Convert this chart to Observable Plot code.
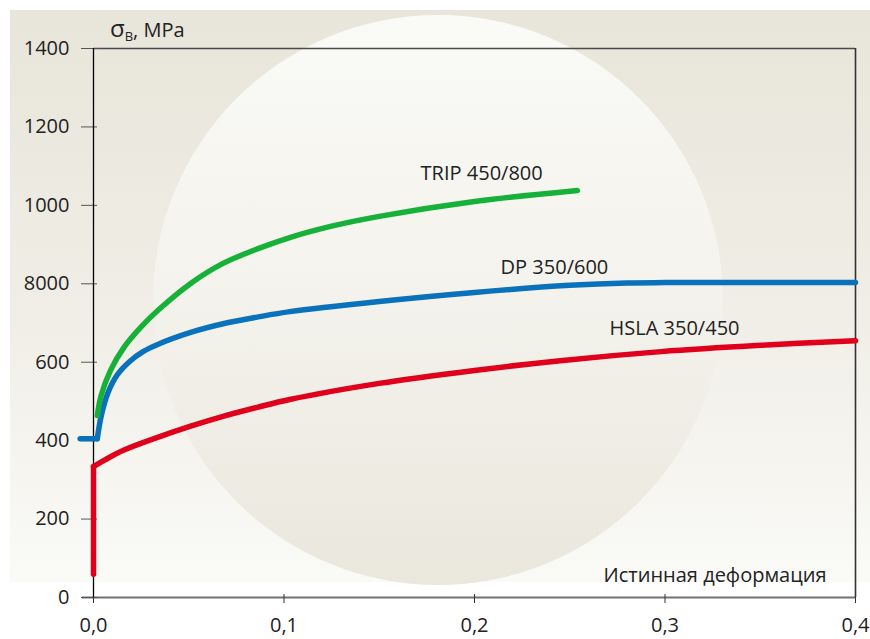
<!DOCTYPE html>
<html>
<head>
<meta charset="utf-8">
<script src="https://cdn.jsdelivr.net/npm/d3@7"></script>
<script src="https://cdn.jsdelivr.net/npm/@observablehq/plot@0.6"></script>
<style>
  body { margin: 0; background: #ffffff; }
  #wrap { position: relative; width: 870px; height: 639px; overflow: hidden; }
  #bg { position: absolute; left: 10px; top: 10px; width: 860px; height: 572px;
        background: linear-gradient(#e8e5da, #efede5 50%, #fafaf7); }
  #disc { position: absolute; left: 153px; top: 15px; width: 570px; height: 570px; border-radius: 50%;
          background: linear-gradient(#fafaf7, #f4f3ed 45%, #eae7dd); }
  #plot { position: absolute; left: 0; top: 0; }
</style>
</head>
<body>
<div id="wrap"><div id="bg"></div><div id="disc"></div><div id="plot"></div></div>
<script>
// ---- data ----
const xTicks = [0, 0.1, 0.2, 0.3, 0.4];
const yTicks = [0, 200, 400, 600, 800, 1000, 1200, 1400];
const yTickLabels = ["0", "200", "400", "600", "8000", "1000", "1200", "1400"];

// HSLA 350/450
const hslaRiseX = [0, 0];
const hslaRiseY = [59, 334];
const hslaX = [0, 0.006, 0.016, 0.034, 0.051, 0.068, 0.086, 0.103, 0.15, 0.2, 0.245, 0.298, 0.35, 0.4];
const hslaY = [334, 351, 376, 409, 437, 462, 485, 505, 546, 579, 604, 627, 643, 655];

// DP 350/600
const dpPreX = [-0.007, 0.002];
const dpPreY = [405, 405];
const dpX = [0.002, 0.004, 0.0075, 0.0125, 0.019, 0.026, 0.034, 0.051, 0.068, 0.086, 0.103, 0.15, 0.2, 0.25, 0.28, 0.3, 0.4];
const dpY = [405, 462, 521, 568, 602, 627, 646, 676, 698, 715, 729, 755, 778, 796, 802, 803, 803];

// TRIP 450/800
const tripX = [0.002, 0.004, 0.009, 0.016, 0.025, 0.034, 0.051, 0.068, 0.086, 0.103, 0.125, 0.15, 0.2, 0.254];
const tripY = [464, 515, 580, 638, 690, 733, 801, 852, 889, 918, 947, 972, 1010, 1038];

// labels
const seriesNames = ["TRIP 450/800", "DP 350/600", "HSLA 350/450"];
const seriesLabelX = [0.1717, 0.2137, 0.2709];
const seriesLabelY = [1081, 842, 686];
const xTitle = "Истинная деформация";
const xTitleX = 0.3848, xTitleY = 56;
const yTitleMain = "σ", yTitleSub = "B", yTitleRest = ", MPa";

const colors = { trip: "#17b13a", dp: "#0a72ba", hsla: "#e0001b" };

const toPts = (xs, ys) => xs.map((x, i) => ({ x, y: ys[i] }));
const labels = seriesNames.map((t, i) => ({ t, x: seriesLabelX[i], y: seriesLabelY[i] }));

const lineOpts = (c, curve) => ({ x: "x", y: "y", stroke: c, strokeWidth: 5.5, strokeLinecap: "round", strokeLinejoin: "round", curve });

const chart = Plot.plot({
  width: 870,
  height: 639,
  marginLeft: 93,
  marginRight: 15,
  marginTop: 48,
  marginBottom: 42,
  style: { fontFamily: "'Open Sans', sans-serif", fontSize: "20px", color: "#222", background: "transparent", overflow: "visible" },
  x: { domain: [0, 0.4] },
  y: { domain: [0, 1400] },
  marks: [
    Plot.ruleY([1400], { x1: 0, x2: 0.4, stroke: "#4a4a4a", strokeWidth: 1.6 }),
    Plot.ruleX([0.4], { y1: 0, y2: 1400, stroke: "#333", strokeWidth: 1.6 }),
    Plot.ruleY([0], { x1: -0.0058, x2: 0.4, stroke: "#707070", strokeWidth: 1.8 }),
    Plot.axisY({ ticks: yTicks, tickSize: 16, dx: 4, tickPadding: 12, stroke: "#555",
      tickFormat: d => yTickLabels[yTicks.indexOf(d)], label: null, fill: "#222" }),
    Plot.axisX({ ticks: xTicks, tickSize: 9, dy: -3, tickPadding: 14, stroke: "#333",
      tickFormat: d => d.toFixed(1).replace(".", ","), label: null, fill: "#222" }),
    Plot.ruleX([0], { y1: 0, y2: 1400, stroke: "#000", strokeWidth: 1.3 }),
    Plot.line(toPts(hslaRiseX, hslaRiseY), lineOpts(colors.hsla, "linear")),
    Plot.line(toPts(hslaX, hslaY), lineOpts(colors.hsla, "catmull-rom")),
    Plot.line(toPts(dpPreX, dpPreY), lineOpts(colors.dp, "linear")),
    Plot.line(toPts(dpX, dpY), lineOpts(colors.dp, "catmull-rom")),
    Plot.line(toPts(tripX, tripY), lineOpts(colors.trip, "catmull-rom")),
    Plot.text(labels, { x: "x", y: "y", text: "t", textAnchor: "start", lineAnchor: "middle", fill: "#222" }),
    Plot.text([xTitle], { x: xTitleX, y: xTitleY, text: d => d, textAnchor: "end", lineAnchor: "middle", fill: "#222" })
  ]
});

// y title with subscript
const sx = chart.scale("x"), sy = chart.scale("y");
const svg = d3.select(chart);
const t = svg.append("text")
  .attr("x", sx.apply(0) + 17)
  .attr("y", sy.apply(1400) - 11)
  .attr("fill", "#222")
  .attr("text-anchor", "start")
  .attr("font-size", 20);
t.append("tspan").attr("font-size", 24).text(yTitleMain);
t.append("tspan").attr("font-size", 13).attr("dy", 4).text(yTitleSub);
t.append("tspan").attr("dy", -4).text(yTitleRest);

document.getElementById("plot").appendChild(chart);
</script>
</body>
</html>
